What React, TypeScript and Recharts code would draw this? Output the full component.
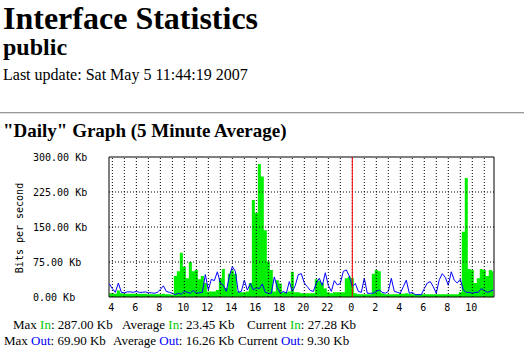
import React from 'react';
import {
  ComposedChart,
  Area,
  Line,
  XAxis,
  YAxis,
  ReferenceLine,
  ReferenceArea,
} from 'recharts';

// 15 minute samples, first one at 03:45 of the previous day (hours on a 0..36 scale)
const startHour = 3.75;
const stepHours = 0.25;

const inKb = [
  8, 8, 7, 14, 8, 7, 7, 7, 7, 7, 7, 7, 7, 6, 6, 6, 6, 6, 7, 6, 6, 5, 45, 55, 95, 65, 40, 75, 55, 58, 38, 45, 30,
  12, 12, 12, 15, 40, 60, 20, 50, 57, 50, 12, 10, 10, 12, 30, 208, 180, 285, 258, 143, 76, 58, 12, 36, 29, 10, 10, 12, 54, 10, 10, 8,
  8, 8, 8, 8, 38, 35, 30, 18, 10, 8, 10, 10, 10, 10, 40, 44, 40, 8, 6, 6, 6, 6, 6, 50, 58, 55, 8, 6, 6, 6, 6, 6,
  7, 7, 8, 7, 6, 6, 6, 6, 6, 6, 6, 6, 6, 6, 6, 6, 6, 6, 6, 6, 10, 140, 255, 60, 58, 30, 40, 60, 58, 45, 58, 55,
];

const outKb = [
  28, 18, 10, 30, 10, 9, 11, 11, 10, 12, 10, 10, 11, 9, 9, 8, 10, 16, 24, 12, 10, 8, 5, 8, 6, 12, 10, 8, 14, 8, 9, 10, 48,
  15, 38, 35, 54, 30, 25, 12, 45, 65, 55, 10, 12, 36, 15, 29, 15, 20, 18, 28, 10, 8, 8, 43, 20, 8, 12, 8, 33, 12, 25, 48, 50,
  30, 22, 14, 12, 30, 40, 25, 52, 25, 12, 35, 26, 29, 55, 58, 45, 22, 29, 12, 10, 40, 8, 8, 8, 12, 15, 10, 8, 12, 40, 12, 10,
  8, 22, 36, 8, 10, 5, 5, 5, 18, 30, 33, 22, 8, 37, 50, 42, 25, 54, 36, 30, 38, 15, 10, 10, 8, 10, 10, 18, 14, 10, 12, 15,
];

const hourTicks = [
  4, 5, 6, 7, 8, 9, 10, 11, 12, 13, 14, 15, 16, 17, 18, 19, 20, 21, 22, 23, 24, 25, 26, 27, 28, 29, 30, 31, 32, 33, 34, 35,
];
const kbTicks = [0, 75, 150, 225, 300];
const midnight = 24;

const statsIn = [
  { label: 'Max', value: '287.00 Kb' },
  { label: 'Average', value: '23.45 Kb' },
  { label: 'Current', value: '27.28 Kb' },
];
const statsOut = [
  { label: 'Max', value: '69.90 Kb' },
  { label: 'Average', value: '16.26 Kb' },
  { label: 'Current', value: '9.30 Kb' },
];

const data = inKb.map((v, i) => ({ t: startHour + i * stepHours, in: v, out: outKb[i] }));

const mono = '"DejaVu Sans Mono", monospace';
const serif = '"Liberation Serif", "Times New Roman", serif';

function YTick(props: any) {
  const { y, payload } = props;
  return (
    <text x={33} y={y} dominantBaseline="central" textAnchor="start" fontFamily={mono} fontSize={10} fill="#000">
      {payload.value.toFixed(2)} Kb
    </text>
  );
}

function XTick(props: any) {
  const { x, y, payload } = props;
  if (payload.value % 2 !== 0) return null;
  return (
    <text x={x - 1} y={y + 10} dominantBaseline="central" textAnchor="middle" fontFamily={mono} fontSize={10} fill="#000">
      {payload.value % 24}
    </text>
  );
}

function StatLine({ stats, name, color, lefts, top }: any) {
  return (
    <>
      {stats.map((s: any, i: number) => (
        <div
          key={s.label}
          style={{ position: 'absolute', left: lefts[i], top, fontFamily: serif, fontSize: 13, lineHeight: 1, whiteSpace: 'nowrap' }}
        >
          {s.label} <span style={{ color }}>{name}</span>: {s.value}
        </div>
      ))}
    </>
  );
}

export default function App() {
  return (
    <div style={{ position: 'absolute', left: 0, top: 0, width: 524, height: 361, background: '#fff', overflow: 'hidden' }}>
      <div style={{ position: 'absolute', left: 3, top: 2, fontFamily: serif, fontSize: 32, fontWeight: 'bold', lineHeight: 1 }}>
        Interface Statistics
      </div>
      <div style={{ position: 'absolute', left: 3, top: 35, fontFamily: serif, fontSize: 24, fontWeight: 'bold', lineHeight: 1 }}>
        public
      </div>
      <div style={{ position: 'absolute', left: 3, top: 67, fontFamily: serif, fontSize: 16, lineHeight: 1 }}>
        Last update: Sat May 5 11:44:19 2007
      </div>
      <div style={{ position: 'absolute', left: 0, top: 112, width: 524, height: 0, borderTop: '1px solid #999', borderBottom: '1px solid #ddd' }} />
      <div style={{ position: 'absolute', left: 3, top: 121, fontFamily: serif, fontSize: 19, fontWeight: 'bold', lineHeight: 1 }}>
        "Daily" Graph (5 Minute Average)
      </div>

      <div style={{ position: 'absolute', left: 0, top: 0 }}>
        <ComposedChart width={524} height={361} data={data} margin={{ top: 157, right: 30, bottom: 44, left: 29 }}>
          <XAxis
            dataKey="t"
            type="number"
            domain={[3.72, 35.81]}
            ticks={hourTicks}
            axisLine={false}
            tickLine={false}
            tickSize={0}
            tickMargin={0}
            height={20}
            tick={<XTick />}
            interval={0}
          />
          <YAxis
            type="number"
            domain={[0, 300]}
            ticks={kbTicks}
            axisLine={false}
            tickLine={false}
            width={80}
            tick={<YTick />}
            interval={0}
          />
          <Area
            type="step"
            dataKey="in"
            stroke="none"
            fill="#00ee00"
            fillOpacity={1}
            isAnimationActive={false}
          />
          <Line
            type="linear"
            dataKey="out"
            stroke="#0000ff"
            strokeWidth={1}
            dot={false}
            isAnimationActive={false}
          />
          {hourTicks.map((h) => (
            <ReferenceLine key={'v' + h} x={h} stroke="#000" strokeDasharray="1 2" />
          ))}
          {kbTicks.slice(1, -1).map((k) => (
            <ReferenceLine key={'h' + k} y={k} stroke="#000" strokeDasharray="1 2" />
          ))}
          <ReferenceLine x={midnight} stroke="#ff0000" strokeWidth={1} />
          <ReferenceArea x1={3.72} x2={35.81} y1={0} y2={300} fill="none" stroke="#000" strokeWidth={1} />
        </ComposedChart>
      </div>

      <StatLine stats={statsIn} name="In" color="#00cc00" lefts={[13, 122, 247]} top={318} />
      <StatLine stats={statsOut} name="Out" color="#0000ff" lefts={[4, 113, 238]} top={334} />
      <div style={{ position: 'absolute', left: 19, top: 228, transform: 'translate(-50%, -50%) rotate(-90deg)', fontFamily: mono, fontSize: 10, whiteSpace: 'nowrap' }}>
        Bits per second
      </div>
    </div>
  );
}
